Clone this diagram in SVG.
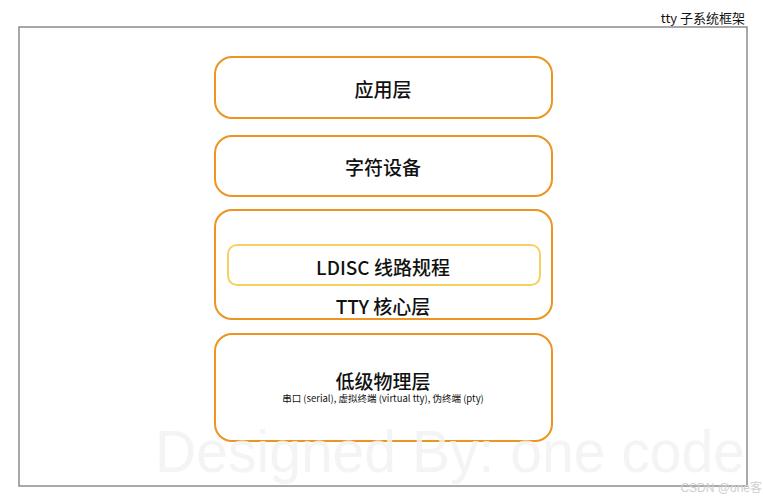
<svg xmlns="http://www.w3.org/2000/svg" width="763" height="500" viewBox="0 0 763 500">
<style>
.frame{fill:#fff;stroke:#8c8c8c;stroke-width:1.5}
.layer{fill:#fff;stroke:#ee9420;stroke-width:2}
.inner{fill:#fff;stroke:#f6d060;stroke-width:2}
.t{font-family:"Noto Sans CJK SC","Noto Sans",sans-serif;fill:#111;text-anchor:middle;dominant-baseline:central}
.big{font-size:19px;font-weight:500}
.small{font-size:9.5px}
.wm{font-family:"Liberation Sans","Noto Sans",sans-serif;font-size:60px;fill:#f2f2f2;fill-opacity:0.85}
</style>
<rect width="763" height="500" fill="#fff"/>
<text x="745" y="17" class="t" style="text-anchor:end;font-size:13px">tty 子系统框架</text>
<rect class="frame" x="19" y="27" width="728" height="459"/>
<g id="app">
<rect class="layer" x="215" y="57" width="337" height="61" rx="17"/>
<text class="t big" x="383" y="88">应用层</text>
</g>
<g id="chardev">
<rect class="layer" x="215" y="136" width="337" height="60" rx="17"/>
<text class="t big" x="383" y="166">字符设备</text>
</g>
<g id="ttycore">
<rect class="layer" x="215" y="210" width="337" height="109" rx="17"/>
<text class="t big" x="383" y="305">TTY 核心层</text>
</g>
<g id="ldisc">
<rect class="inner" x="228" y="245" width="312" height="40" rx="9"/>
<text class="t big" x="383" y="266">LDISC 线路规程</text>
</g>
<g id="phys">
<rect class="layer" x="215" y="334" width="337" height="107" rx="17"/>
<text class="t big" x="383" y="380">低级物理层</text>
<text class="t small" x="383" y="398">串口 (serial), 虚拟终端 (virtual tty), 伪终端 (pty)</text>
</g>
<g id="connectors"></g>
<text class="wm" x="155" y="472" textLength="590" lengthAdjust="spacingAndGlyphs">Designed By: one code</text>
<text x="762" y="492" style="font-family:'Liberation Sans','Noto Sans CJK SC',sans-serif;font-size:12px;fill:#cfcfcf;text-anchor:end">CSDN @one客</text>
</svg>
